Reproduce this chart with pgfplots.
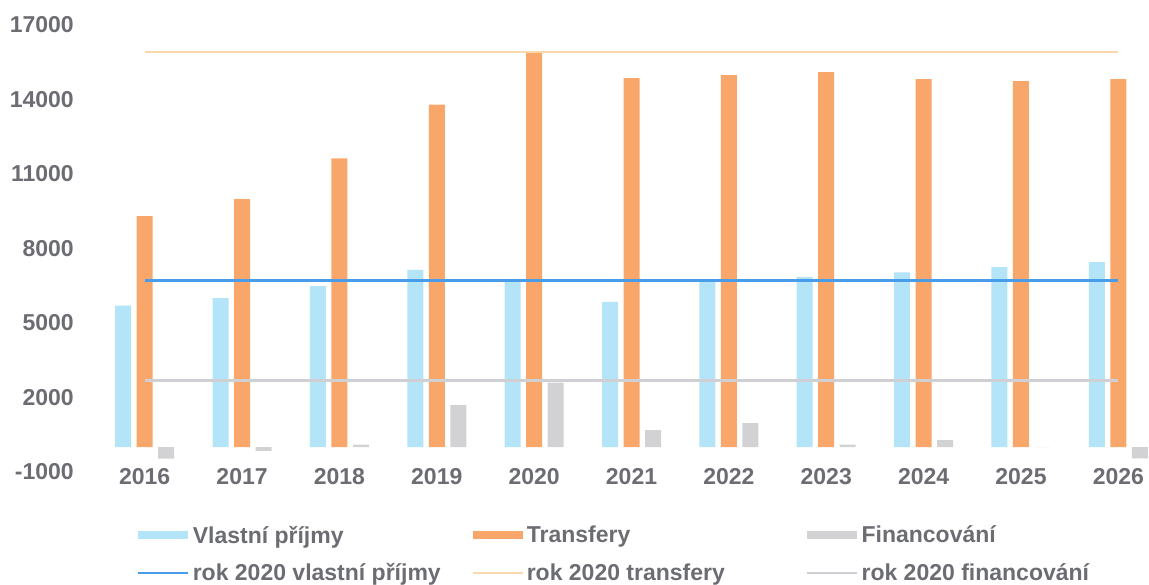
\documentclass[border=0pt]{standalone}
\usepackage{fontspec}
\setmainfont{Liberation Sans}
\usepackage{pgfplots}
\pgfplotsset{compat=1.18}
\definecolor{txt}{RGB}{108,109,115}
\definecolor{cblue}{RGB}{180,228,247}
\definecolor{corange}{RGB}{249,166,106}
\definecolor{cgrey}{RGB}{210,210,213}
\definecolor{lblue}{RGB}{72,156,232}
\definecolor{lorange}{RGB}{250,216,172}
\definecolor{lgrey}{RGB}{208,208,212}
\begin{document}
\begin{tikzpicture}
\begin{axis}[
  at={(96bp,113bp)}, anchor=south west,
  scale only axis, width=1052.5bp, height=447bp,
  xmin=-0.5, xmax=10.31, ymin=-1000, ymax=17000,
  ytick={-1000,2000,5000,8000,11000,14000,17000},
  scaled y ticks=false,
  xtick={0,...,10},
  xticklabels={2016,2017,2018,2019,2020,2021,2022,2023,2024,2025,2026},
  axis line style={draw=none}, tick style={draw=none},
  /pgf/number format/assume math mode=true,
  /pgf/number format/1000 sep={},
  ticklabel style={font=\fontsize{23bp}{27bp}\selectfont\bfseries, text=txt},
  yticklabel style={anchor=east, inner sep=0pt, xshift=-22bp},
  xticklabel style={anchor=north, inner sep=0pt, yshift=4bp},
  legend columns=3,
  legend cell align=left,
  legend style={at={(axis description cs:0.0361,-0.109)}, anchor=north west,
    draw=none, fill=none, column sep=0pt, row sep=13bp,
    font=\fontsize{23bp}{27bp}\selectfont\bfseries, text=txt,
    nodes={inner sep=3bp}},
]
\addplot[ybar, bar width=16bp, bar shift=-21.5bp, fill=cblue, draw=none,
  legend image code/.code={\fill[cblue] (-2bp,-4bp) rectangle (48bp,4bp);}]
  coordinates {(0,5700) (1,6000) (2,6480) (3,7140) (4,6720) (5,5850) (6,6770) (7,6860) (8,7040) (9,7250) (10,7450)};
\addlegendentry{\makebox[276bp][l]{Vlastní příjmy}}
\addplot[ybar, bar width=16bp, bar shift=0bp, fill=corange, draw=none,
  legend image code/.code={\fill[corange] (-2bp,-4bp) rectangle (48bp,4bp);}]
  coordinates {(0,9300) (1,9990) (2,11630) (3,13790) (4,15900) (5,14860) (6,14980) (7,15100) (8,14820) (9,14740) (10,14820)};
\addlegendentry{\makebox[276bp][l]{Transfery}}
\addplot[ybar, bar width=16bp, bar shift=21.5bp, fill=cgrey, draw=none,
  legend image code/.code={\fill[cgrey] (-2bp,-4bp) rectangle (48bp,4bp);}]
  coordinates {(0,-460) (1,-150) (2,100) (3,1690) (4,2600) (5,685) (6,966) (7,100) (8,280) (9,0) (10,-450)};
\addlegendentry{Financování}
\addplot[lblue, line width=2.6bp,
  legend image code/.code={\draw[lblue, line width=2.6bp] (-2bp,0bp)--(48bp,0bp);}]
  coordinates {(0,6720) (10,6720)};
\addlegendentry{rok 2020 vlastní příjmy}
\addplot[lorange, line width=2bp,
  legend image code/.code={\draw[lorange, line width=2bp] (-2bp,0bp)--(48bp,0bp);}]
  coordinates {(0,15900) (10,15900)};
\addlegendentry{rok 2020 transfery}
\addplot[lgrey, line width=2.8bp,
  legend image code/.code={\draw[lgrey, line width=2.8bp] (-2bp,0bp)--(48bp,0bp);}]
  coordinates {(0,2670) (10,2670)};
\addlegendentry{rok 2020 financování}
\end{axis}
\pgfresetboundingbox
\useasboundingbox (0,0) rectangle (1149bp,585bp);
\end{tikzpicture}
\end{document}
